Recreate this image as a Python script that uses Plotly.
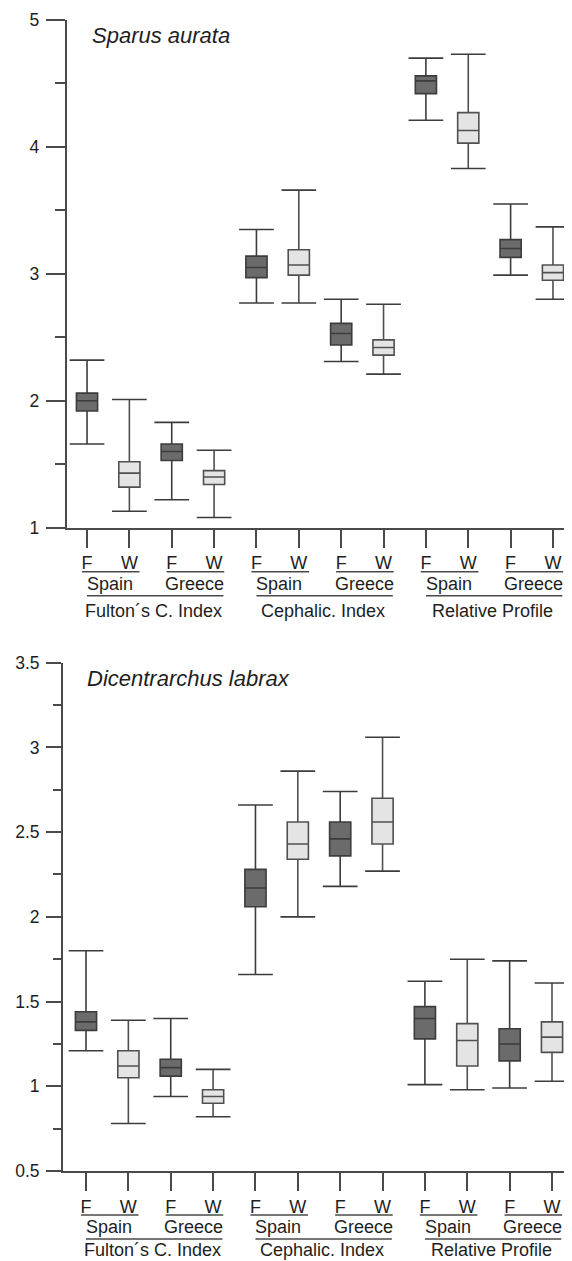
import plotly.graph_objects as go

# ---------------- data ----------------
groups = ["Fulton´s C. Index", "Cephalic. Index", "Relative Profile"]
countries = ["Spain", "Greece"]
origins = ["F", "W"]
positions = list(range(1, 13))
tick_text = origins * 6

# Sparus aurata
sa_lo = [1.66, 1.13, 1.22, 1.08, 2.77, 2.77, 2.31, 2.21, 4.21, 3.83, 2.99, 2.80]
sa_q1 = [1.92, 1.32, 1.53, 1.34, 2.97, 2.99, 2.44, 2.36, 4.42, 4.03, 3.13, 2.95]
sa_med = [2.00, 1.43, 1.60, 1.40, 3.05, 3.07, 2.53, 2.42, 4.52, 4.13, 3.20, 3.01]
sa_q3 = [2.06, 1.52, 1.66, 1.45, 3.14, 3.19, 2.61, 2.48, 4.56, 4.27, 3.27, 3.07]
sa_hi = [2.32, 2.01, 1.83, 1.61, 3.35, 3.66, 2.80, 2.76, 4.70, 4.73, 3.55, 3.37]

# Dicentrarchus labrax
dl_lo = [1.21, 0.78, 0.94, 0.82, 1.66, 2.00, 2.18, 2.27, 1.01, 0.98, 0.99, 1.03]
dl_q1 = [1.33, 1.05, 1.06, 0.90, 2.06, 2.34, 2.36, 2.43, 1.28, 1.12, 1.15, 1.20]
dl_med = [1.38, 1.12, 1.11, 0.94, 2.17, 2.43, 2.46, 2.56, 1.40, 1.27, 1.25, 1.29]
dl_q3 = [1.44, 1.21, 1.16, 0.98, 2.28, 2.56, 2.56, 2.70, 1.47, 1.37, 1.34, 1.38]
dl_hi = [1.80, 1.39, 1.40, 1.10, 2.66, 2.86, 2.74, 3.06, 1.62, 1.75, 1.74, 1.61]

sa_yticks = [1, 2, 3, 4, 5]
sa_yminor = [1.5, 2.5, 3.5, 4.5]
dl_yticks = [0.5, 1, 1.5, 2, 2.5, 3, 3.5]
dl_yticktext = ["0.5", "1", "1.5", "2", "2.5", "3", "3.5"]
dl_yminor = [0.75, 1.25, 1.75, 2.25, 2.75, 3.25]

# ---------------- style ----------------
FONT = "Liberation Sans, Arial, sans-serif"
TXT = "#1e1e1e"
AX = "#4a4a4a"
DARK_FILL = "#6b6b6b"
LIGHT_FILL = "#e4e4e4"
DARK_LINE = "#3c3c3c"
LIGHT_LINE = "#505050"
CAP_HALF = 0.41
BOX_W = 0.5

fig = go.Figure()


def add_panel(lo, q1, med, q3, hi, xa, ya):
    for k, (fill, lc) in enumerate([(DARK_FILL, DARK_LINE), (LIGHT_FILL, LIGHT_LINE)]):
        idx = [i for i in range(12) if i % 2 == k]
        fig.add_trace(go.Box(
            x=[positions[i] for i in idx],
            q1=[q1[i] for i in idx], median=[med[i] for i in idx],
            q3=[q3[i] for i in idx], lowerfence=[lo[i] for i in idx],
            upperfence=[hi[i] for i in idx],
            width=BOX_W, whiskerwidth=0, fillcolor=fill,
            line=dict(color=lc, width=1.6), boxpoints=False,
            xaxis=xa, yaxis=ya, showlegend=False, hoverinfo="skip"))
    cx, cy = [], []
    for i in range(12):
        for v in (lo[i], hi[i]):
            cx += [positions[i] - CAP_HALF, positions[i] + CAP_HALF, None]
            cy += [v, v, None]
    fig.add_trace(go.Scatter(x=cx, y=cy, mode="lines",
                             line=dict(color=DARK_LINE, width=1.6),
                             xaxis=xa, yaxis=ya, showlegend=False, hoverinfo="skip"))


add_panel(sa_lo, sa_q1, sa_med, sa_q3, sa_hi, "x", "y")
add_panel(dl_lo, dl_q1, dl_med, dl_q3, dl_hi, "x2", "y2")

xcommon = dict(tickvals=positions, ticktext=tick_text, ticks="outside", ticklen=18,
               tickwidth=2, tickcolor=AX, showline=True, linewidth=2, linecolor=AX,
               showgrid=False, zeroline=False,
               tickfont=dict(family=FONT, size=18, color=TXT))
ycommon = dict(ticks="outside", tickwidth=2, tickcolor=AX, showline=True, linewidth=2,
               linecolor=AX, showgrid=False, zeroline=False, ticklabelstandoff=3,
               tickfont=dict(family=FONT, size=17.5, color=TXT))

# the page body adds an 8px offset; the figure is sized to fill the rest of the window
fig.update_layout(
    width=564, height=1253,
    margin=dict(l=55, r=0, t=12, b=90),
    paper_bgcolor="white", plot_bgcolor="white",
    showlegend=False,
    xaxis=dict(domain=[0.0073, 1], range=[0.5208, 12.449], anchor="y", **xcommon),
    yaxis=dict(domain=[0.5589, 1], range=[1, 5], anchor="x", tickvals=sa_yticks,
               ticklen=19,
               minor=dict(tickvals=sa_yminor, ticks="outside", ticklen=10,
                          tickwidth=2, tickcolor=AX, showgrid=False),
               **ycommon),
    xaxis2=dict(domain=[0, 1], range=[0.457, 12.472], anchor="y2", **xcommon),
    yaxis2=dict(domain=[0, 0.4416], range=[0.5, 3.5], anchor="x2", tickvals=dl_yticks,
                ticktext=dl_yticktext, ticklen=15,
                minor=dict(tickvals=dl_yminor, ticks="outside", ticklen=8,
                           tickwidth=2, tickcolor=AX, showgrid=False),
                **ycommon),
)

annotations = []
shapes = []
for xa, yd, title, tx, ty, gy in [("x", "y domain", "Sparus aurata", 0.046, -15, -83),
                                  ("x2", "y2 domain", "Dicentrarchus labrax", 0.043, -16, -79)]:
    xd = xa + " domain"
    annotations.append(dict(xref=xd, yref=yd, x=tx, y=1, yshift=ty, xanchor="left",
                            yanchor="middle", showarrow=False,
                            text="<i>" + title + "</i>",
                            font=dict(family=FONT, size=22, color=TXT)))
    for g, gname in enumerate(groups):
        pf = positions[4 * g]
        pw = positions[4 * g + 3]
        annotations.append(dict(xref=xa, yref=yd, x=(pf + pw) / 2 + 0.08, y=0, yshift=gy,
                                xanchor="center", yanchor="middle", showarrow=False,
                                text=gname, font=dict(family=FONT, size=18, color=TXT)))
        shapes.append(dict(type="line", xref=xa, yref=yd, x0=pf, x1=pw + 0.22,
                           ysizemode="pixel", yanchor=0, y0=-68, y1=-68,
                           line=dict(color=AX, width=1.6)))
        for c, cname in enumerate(countries):
            f = positions[4 * g + 2 * c]
            w = positions[4 * g + 2 * c + 1]
            annotations.append(dict(xref=xa, yref=yd, x=(f + w) / 2 + 0.04, y=0, yshift=-56,
                                    xanchor="center", yanchor="middle", showarrow=False,
                                    text=cname, font=dict(family=FONT, size=18, color=TXT)))
            shapes.append(dict(type="line", xref=xa, yref=yd, x0=f - 0.12, x1=w + 0.24,
                               ysizemode="pixel", yanchor=0, y0=-44, y1=-44,
                               line=dict(color=AX, width=1.6)))

fig.update_layout(annotations=annotations, shapes=shapes)
fig.write_html("out.html")
